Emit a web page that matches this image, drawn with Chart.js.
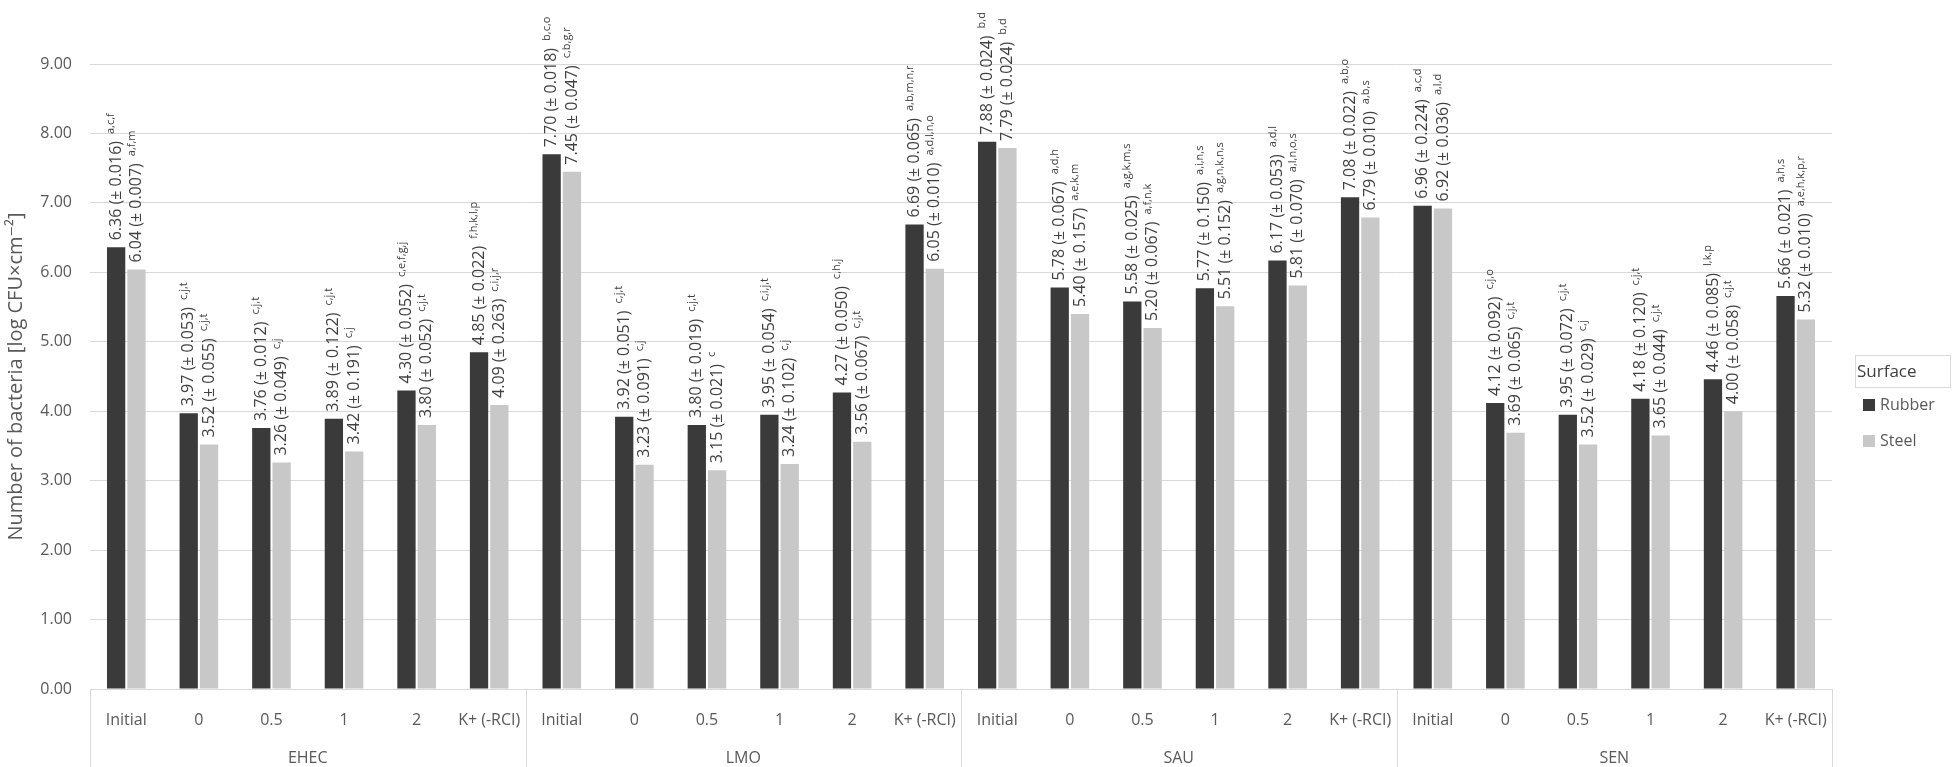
<!DOCTYPE html>
<html>
<head>
<meta charset="utf-8">
<script src="https://cdn.jsdelivr.net/npm/chart.js@4.4.0/dist/chart.umd.min.js"></script>
<style>
  html, body { margin: 0; padding: 0; background: #fff; }
  canvas { display: block; }
</style>
</head>
<body>
<canvas id="grafico" width="1953" height="767"></canvas>
<script>
// Grupos (bactérias) e tempos de cada grupo
const grupos = ['EHEC', 'LMO', 'SAU', 'SEN'];
const tempos = ['Initial', '0', '0.5', '1', '2', 'K+ (-RCI)'];
const categorias = grupos.flatMap(() => tempos);

// Valores [log CFU x cm-2]
const rubber = [6.36, 3.97, 3.76, 3.89, 4.30, 4.85,
                7.70, 3.92, 3.80, 3.95, 4.27, 6.69,
                7.88, 5.78, 5.58, 5.77, 6.17, 7.08,
                6.96, 4.12, 3.95, 4.18, 4.46, 5.66];
const steel = [6.04, 3.52, 3.26, 3.42, 3.80, 4.09,
               7.45, 3.23, 3.15, 3.24, 3.56, 6.05,
               7.79, 5.40, 5.20, 5.51, 5.81, 6.79,
               6.92, 3.69, 3.52, 3.65, 4.00, 5.32];

// Desvios
const rubberSD = ['0.016', '0.053', '0.012', '0.122', '0.052', '0.022',
                  '0.018', '0.051', '0.019', '0.054', '0.050', '0.065',
                  '0.024', '0.067', '0.025', '0.150', '0.053', '0.022',
                  '0.224', '0.092', '0.072', '0.120', '0.085', '0.021'];
const steelSD = ['0.007', '0.055', '0.049', '0.191', '0.052', '0.263',
                 '0.047', '0.091', '0.021', '0.102', '0.067', '0.010',
                 '0.024', '0.157', '0.067', '0.152', '0.070', '0.010',
                 '0.036', '0.065', '0.029', '0.044', '0.058', '0.010'];

// Letras de significância
const rubberLetras = ['a,c,f', 'c,j,t', 'c,j,t', 'c,j,t', 'c,e,f,g,j', 'f,h,k,l,p',
                      'b,c,o', 'c,j,t', 'c,j,t', 'c,i,j,t', 'c,h,j', 'a,b,m,n,r',
                      'b,d', 'a,d,h', 'a,g,k,m,s', 'a,i,n,s', 'a,d,l', 'a,b,o',
                      'a,c,d', 'c,j,o', 'c,j,t', 'c,j,t', 'l,k,p', 'a,h,s'];
const steelLetras = ['a,f,m', 'c,j,t', 'c,j', 'c,j', 'c,j,t', 'c,i,j,r',
                     'c,b,g,r', 'c,j', 'c', 'c,j', 'c,j,t', 'a,d,l,n,o',
                     'b,d', 'a,e,k,m', 'a,f,n,k', 'a,g,n,k,n,s', 'a,l,n,o,s', 'a,b,s',
                     'a,l,d', 'c,j,t', 'c,j', 'c,j,t', 'c,j,t', 'a,e,h,k,p,r'];

const fonte = '"Open Sans", "DejaVu Sans", sans-serif';
const corTexto = '#595959';

// Rótulos verticais acima de cada barra
const rotulosBarras = {
    id: 'rotulosBarras',
    afterDatasetsDraw(chart) {
        const ctx = chart.ctx;
        const desvios = [rubberSD, steelSD];
        const letras = [rubberLetras, steelLetras];
        chart.data.datasets.forEach((ds, i) => {
            chart.getDatasetMeta(i).data.forEach((barra, j) => {
                const texto = ds.data[j].toFixed(2) + ' (± ' + desvios[i][j] + ')';
                ctx.save();
                ctx.translate(barra.x, barra.y - 7);
                ctx.rotate(-Math.PI / 2);
                ctx.fillStyle = '#404040';
                ctx.textAlign = 'left';
                ctx.textBaseline = 'middle';
                ctx.font = '16px ' + fonte;
                ctx.fillText(texto, 0, 0);
                const w = ctx.measureText(texto).width;
                ctx.font = '11px ' + fonte;
                ctx.fillText(letras[i][j], w + 7, -5);
                ctx.restore();
            });
        });
    }
};

// Linhas separadoras dos grupos abaixo do eixo
const separadores = {
    id: 'separadores',
    afterDraw(chart) {
        const { ctx, chartArea, scales } = chart;
        const x = scales.x;
        const passo = x.getPixelForValue(1) - x.getPixelForValue(0);
        ctx.save();
        ctx.strokeStyle = '#d9d9d9';
        ctx.lineWidth = 1;
        for (let g = 0; g <= grupos.length; g++) {
            const px = Math.round(x.getPixelForValue(g * tempos.length) - passo / 2) + 0.5;
            ctx.beginPath();
            ctx.moveTo(px, chartArea.bottom);
            ctx.lineTo(px, chart.height);
            ctx.stroke();
        }
        ctx.restore();
    }
};

// Legenda com título em caixa
const legenda = {
    id: 'legenda',
    afterDraw(chart) {
        const ctx = chart.ctx;
        const x0 = 1855;
        ctx.save();
        ctx.strokeStyle = '#d9d9d9';
        ctx.lineWidth = 1;
        ctx.strokeRect(x0 + 0.5, 355.5, 95, 32);
        ctx.fillStyle = '#404040';
        ctx.font = '17px ' + fonte;
        ctx.textBaseline = 'middle';
        ctx.fillText('Surface', x0 + 2, 372);
        chart.data.datasets.forEach((ds, i) => {
            const y = 405 + i * 36;
            ctx.fillStyle = ds.backgroundColor;
            ctx.fillRect(x0 + 8, y - 6, 12, 12);
            ctx.fillStyle = corTexto;
            ctx.font = '16px ' + fonte;
            ctx.fillText(ds.label, x0 + 25, y);
        });
        ctx.restore();
    }
};

const ctxGrafico = document.getElementById('grafico').getContext('2d');
const grafico = new Chart(ctxGrafico, {
    type: 'bar',
    data: {
        labels: categorias,
        datasets: [
            { label: 'Rubber', data: rubber, backgroundColor: '#3a3a3a', xAxisID: 'x' },
            { label: 'Steel', data: steel, backgroundColor: '#c8c8c8', xAxisID: 'x' }
        ]
    },
    options: {
        responsive: false,
        animation: false,
        devicePixelRatio: 1,
        categoryPercentage: 0.56,
        barPercentage: 0.9,
        layout: { padding: { top: 64, right: 121, left: 0, bottom: 0 } },
        plugins: {
            legend: { display: false },
            tooltip: { enabled: false }
        },
        scales: {
            x: {
                position: 'bottom',
                grid: { display: false },
                border: { display: true, color: '#d9d9d9' },
                ticks: { font: { family: fonte, size: 16 }, color: corTexto, padding: 14, maxRotation: 0, autoSkip: false },
                afterFit(s) { s.height = 42; }
            },
            x2: {
                type: 'category',
                labels: grupos,
                position: 'bottom',
                grid: { display: false },
                border: { display: false },
                ticks: { font: { family: fonte, size: 16 }, color: corTexto, padding: 10, maxRotation: 0 },
                afterFit(s) { s.height = 36; }
            },
            y: {
                min: 0,
                max: 9,
                ticks: {
                    stepSize: 1,
                    callback: v => v.toFixed(2),
                    padding: 18,
                    font: { family: fonte, size: 16 },
                    color: corTexto
                },
                grid: { color: '#d9d9d9', drawTicks: false },
                border: { display: false },
                title: {
                    display: true,
                    text: 'Number of bacteria [log CFU×cm⁻²]',
                    font: { family: fonte, size: 20 },
                    color: corTexto,
                    padding: { top: 4, bottom: 0 }
                },
                afterFit(s) { s.width = 90; }
            }
        }
    },
    plugins: [rotulosBarras, separadores, legenda]
});
</script>
</body>
</html>
